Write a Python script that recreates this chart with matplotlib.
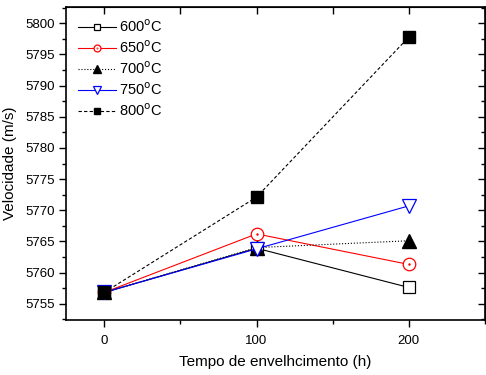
import matplotlib.pyplot as plt
from matplotlib.legend_handler import HandlerTuple
from matplotlib.ticker import MultipleLocator

plt.rcParams['font.family'] = ['Liberation Sans', 'DejaVu Sans']

# aging time (h) and ultrasonic velocity (m/s) per aging temperature
tempo = [0, 100, 200]
v600 = [5756.8, 5763.9, 5757.6]
v650 = [5756.8, 5766.2, 5761.3]
v700 = [5756.8, 5764.0, 5765.1]
v750 = [5756.8, 5763.8, 5770.7]
v800 = [5756.8, 5772.1, 5797.8]
rotulos = ['600$^{\\mathrm{o}}$C', '650$^{\\mathrm{o}}$C', '700$^{\\mathrm{o}}$C',
           '750$^{\\mathrm{o}}$C', '800$^{\\mathrm{o}}$C']

fig = plt.figure(figsize=(4.86, 3.75), dpi=100)
ax = fig.add_axes([0.136, 0.147, 0.862, 0.834])

ms = 8.5
h600, = ax.plot(tempo, v600, '-', color='black', lw=0.8, marker='s', ms=ms,
                mfc='white', mec='black', mew=0.9)
h650, = ax.plot(tempo, v650, '-', color='red', lw=0.8, marker='o', ms=ms + 0.5,
                mfc='white', mec='red', mew=0.9)
d650, = ax.plot(tempo, v650, ls='none', marker='.', ms=1.5, color='red')
h700, = ax.plot(tempo, v700, ':', color='black', lw=0.8, marker='^', ms=ms + 1,
                mfc='black', mec='black')
h750, = ax.plot(tempo, v750, '-', color='blue', lw=0.8, marker='v', ms=ms + 1,
                mfc='white', mec='blue', mew=0.9)
h800, = ax.plot(tempo, v800, '--', color='black', lw=0.8, marker='s', ms=ms,
                mfc='black', mec='black', dashes=(3, 2))

ax.set_xlim(-25, 250)
ax.set_ylim(5752.4, 5802.6)
ax.xaxis.set_major_locator(MultipleLocator(100))
ax.xaxis.set_minor_locator(MultipleLocator(50))
ax.yaxis.set_major_locator(MultipleLocator(5))
ax.yaxis.set_minor_locator(MultipleLocator(2.5))

ax.tick_params(axis='both', which='both', labelsize=9.5, width=1.0, direction='out')
ax.tick_params(axis='both', which='major', length=5)
ax.tick_params(axis='both', which='minor', length=3)
ax.tick_params(axis='x', which='major', pad=6)
ax.tick_params(axis='y', which='major', pad=3)
for s in ax.spines.values():
    s.set_linewidth(1.2)

# mirrored ticks on top and right, pointing into the plot
topo = ax.secondary_xaxis('top')
topo.xaxis.set_major_locator(MultipleLocator(50))
topo.tick_params(direction='in', length=5, width=1.0, labeltop=False)
direita = ax.secondary_yaxis('right')
direita.yaxis.set_major_locator(MultipleLocator(5))
direita.yaxis.set_minor_locator(MultipleLocator(2.5))
direita.tick_params(which='major', direction='in', length=5, width=1.0, labelright=False)
direita.tick_params(which='minor', direction='in', length=3, width=1.0)

ax.set_xlabel('Tempo de envelhcimento (h)', fontsize=11, labelpad=6)
ax.set_ylabel('Velocidade (m/s)', fontsize=11, labelpad=6)

ax.legend([h600, (h650, d650), h700, h750, h800], rotulos,
          handler_map={tuple: HandlerTuple(ndivide=1, pad=0)},
          loc='upper left', frameon=False, fontsize=10.5, markerscale=0.55,
          handlelength=2.6, handletextpad=0.2, labelspacing=0.3,
          borderaxespad=0.4)

plt.savefig('out.png', dpi=100)
